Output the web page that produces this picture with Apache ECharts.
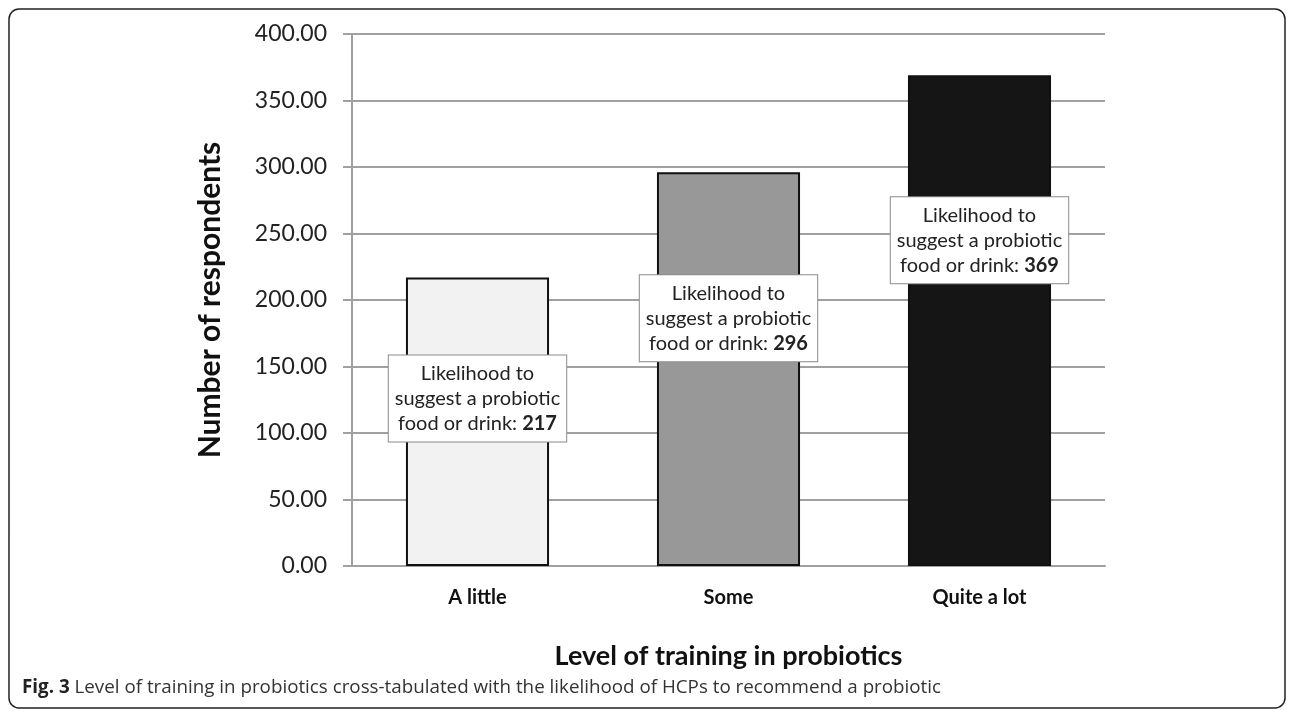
<!DOCTYPE html>
<html>
<head>
<meta charset="utf-8">
<script src="https://cdn.jsdelivr.net/npm/echarts@6/dist/echarts.min.js"></script>
<style>
  html, body { margin: 0; padding: 0; background: #fff; }
  #chart { width: 1295px; height: 718px; }
</style>
</head>
<body>
<div id="chart"></div>
<script>
const categories = ['A little', 'Some', 'Quite a lot'];
const respondents = [217, 296, 369];
const yTicks = [0, 50, 100, 150, 200, 250, 300, 350, 400];

const barColors = ['#f2f2f2', '#989898', '#151515'];
// how far below the bar top each callout box starts (px)
const calloutOffsets = [78, 103, 122];

const chart = echarts.init(document.getElementById('chart'));

const option = {
  animation: false,
  textStyle: { fontFamily: 'Lato' },
  graphic: [
    {
      type: 'rect',
      shape: { x: 9, y: 9, width: 1276, height: 699, r: 10 },
      style: { fill: 'none', stroke: '#222', lineWidth: 1.5 },
      z: -1
    }
  ],
  title: {
    left: 17,
    top: 673,
    text: '{b|Fig. 3} Level of training in probiotics cross-tabulated with the likelihood of HCPs to recommend a probiotic',
    textStyle: {
      fontFamily: 'Open Sans',
      fontSize: 18.8,
      fontWeight: 'normal',
      color: '#333',
      rich: {
        b: { fontFamily: 'Open Sans', fontSize: 18.8, fontWeight: 'bold', color: '#222' }
      }
    }
  },
  grid: {
    left: 352,
    right: 190,
    top: 34,
    bottom: 152
  },
  xAxis: {
    type: 'category',
    data: categories,
    name: 'Level of training in probiotics',
    nameLocation: 'middle',
    nameGap: 77,
    nameTextStyle: { fontSize: 27, fontWeight: 'bold', color: '#111' },
    axisLine: { lineStyle: { color: '#a0a0a0', width: 2 } },
    axisTick: { show: false },
    axisLabel: { fontSize: 20, fontWeight: 'bold', color: '#111', margin: 22 }
  },
  yAxis: {
    type: 'value',
    min: yTicks[0],
    max: yTicks[yTicks.length - 1],
    interval: 50,
    name: 'Number of respondents',
    nameLocation: 'middle',
    nameGap: 127,
    nameTextStyle: { fontSize: 30, fontWeight: 'bold', color: '#111' },
    axisLine: { show: true, lineStyle: { color: '#a0a0a0', width: 2 } },
    axisTick: { show: true, length: 9, lineStyle: { color: '#a0a0a0', width: 2 } },
    axisLabel: {
      fontSize: 23,
      color: '#222',
      margin: 25,
      formatter: v => v.toFixed(2)
    },
    splitLine: { lineStyle: { color: '#a0a0a0', width: 2 } }
  },
  series: [
    {
      type: 'bar',
      barWidth: '57%',
      data: respondents.map((v, i) => ({
        value: v,
        itemStyle: { color: barColors[i] },
        label: { position: ['50%', calloutOffsets[i]] }
      })),
      itemStyle: { borderColor: '#111', borderWidth: 2 },
      label: {
        show: true,
        align: 'center',
        verticalAlign: 'top',
        formatter: p => 'Likelihood to\nsuggest a probiotic\nfood or drink: {b|' + p.value + '}',
        fontFamily: 'Lato',
        fontSize: 20,
        lineHeight: 25,
        color: '#222',
        backgroundColor: '#fff',
        borderColor: '#8a8a8a',
        borderWidth: 1,
        padding: [6, 6, 5, 6],
        rich: {
          b: { fontFamily: 'Lato', fontSize: 20, fontWeight: 'bold', color: '#222', lineHeight: 25 }
        }
      }
    }
  ]
};

chart.setOption(option);
</script>
</body>
</html>
